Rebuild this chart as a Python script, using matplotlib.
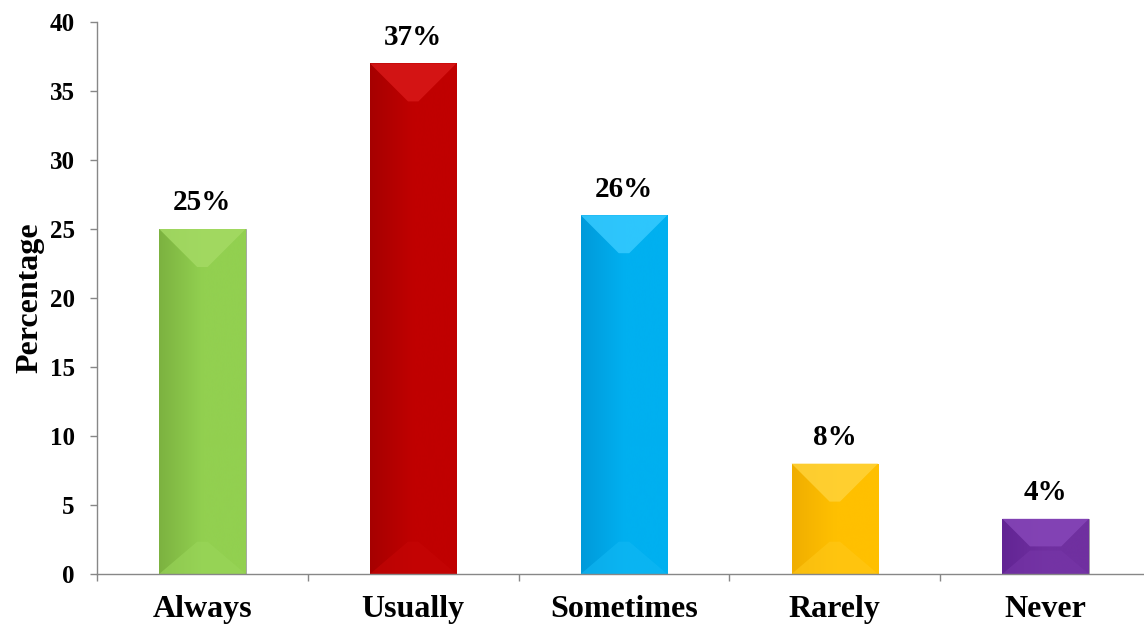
import numpy as np
import matplotlib
matplotlib.use("Agg")
import matplotlib.pyplot as plt
from matplotlib.patches import Polygon
from matplotlib.colors import LinearSegmentedColormap

# Risposte e percentuali
categories = ["Always", "Usually", "Sometimes", "Rarely", "Never"]
percentages = [25, 37, 26, 8, 4]
value_labels = ["25%", "37%", "26%", "8%", "4%"]
y_ticks = [0, 5, 10, 15, 20, 25, 30, 35, 40]

# colori: base, lato scuro, smusso alto, smusso basso
base_colors = ["#92D050", "#C00000", "#00B0F0", "#FFC000", "#7030A0"]
dark_colors = ["#7CB240", "#A60000", "#009ADA", "#F0AE00", "#622494"]
top_colors = ["#A4DA64", "#D81818", "#36CAFF", "#FFD238", "#8646B8"]
bottom_colors = ["#9AD65A", "#C60606", "#12B8F4", "#FFC818", "#7736A8"]

plt.rcParams['font.family'] = ['Liberation Serif', 'DejaVu Serif']
plt.rcParams['font.weight'] = 'bold'

fig = plt.figure(figsize=(11.44, 6.27), dpi=100)
ax = fig.add_axes([97 / 1144, 53 / 627, 1054 / 1144, 552 / 627])

x = np.arange(len(categories))
bar_w = 0.41
bars = ax.bar(x, percentages, width=bar_w, color=base_colors, zorder=2,
              edgecolor='#a0a0a0', linewidth=0.6)

ax.set_xlim(-0.5, len(categories) - 0.5)
ax.set_ylim(0, 40)

# conversione pixel -> dati per lo smusso
px_x = 1 / (1054 / 5)
px_y = 40 / 552
bevel_px = 38

for i, b in enumerate(bars):
    x0 = b.get_x()
    w = b.get_width()
    h = b.get_height()
    x1 = x0 + w

    # sfumatura orizzontale dal lato scuro a quello chiaro
    cmap = LinearSegmentedColormap.from_list(
        "g%d" % i, [dark_colors[i], base_colors[i], base_colors[i]])
    grad = np.linspace(0, 1, 256).reshape(1, -1)
    im = ax.imshow(grad, cmap=cmap, aspect='auto', extent=[x0, x1, 0, h],
                   zorder=2.1, interpolation='bicubic')
    im.set_clip_path(b)

    d_px = min(bevel_px, h / px_y / 2)
    dy = d_px * px_y
    dx = min(d_px * px_x, w / 2 * 0.93)

    top = Polygon([(x0, h), (x1, h), (x1 - dx, h - dy), (x0 + dx, h - dy)],
                  closed=True, facecolor=top_colors[i], edgecolor='none',
                  alpha=0.85, zorder=2.2)
    ax.add_patch(top)
    bot_dy = dy * 0.85
    bot = Polygon([(x0, 0), (x1, 0), (x1 - dx, bot_dy), (x0 + dx, bot_dy)],
                  closed=True, facecolor=bottom_colors[i], edgecolor='none',
                  alpha=0.6, zorder=2.2)
    ax.add_patch(bot)

    ax.annotate(value_labels[i], (b.get_x() + w / 2, h), xytext=(0, 9),
                textcoords='offset points', ha='center', va='bottom',
                fontsize=21, fontweight='bold')

ax.set_xticks(x)
ax.set_xticklabels(categories, fontsize=23, fontweight='bold')
ax.set_xticks(np.arange(-0.5, len(categories), 1), minor=True)
ax.tick_params(axis='x', which='major', length=0, pad=15)
ax.tick_params(axis='x', which='minor', length=5, color='#878787', width=1)

ax.set_yticks(y_ticks)
ax.set_yticklabels([str(v) for v in y_ticks], fontsize=18, fontweight='bold')
ax.tick_params(axis='y', length=5, color='#878787', width=1, pad=11)

ax.set_ylabel("Percentage", fontsize=23, fontweight='bold', labelpad=4)

for s in ['top', 'right']:
    ax.spines[s].set_visible(False)
for s in ['left', 'bottom']:
    ax.spines[s].set_color('#878787')
    ax.spines[s].set_linewidth(1)

plt.savefig("out.png", dpi=100)
plt.close()
